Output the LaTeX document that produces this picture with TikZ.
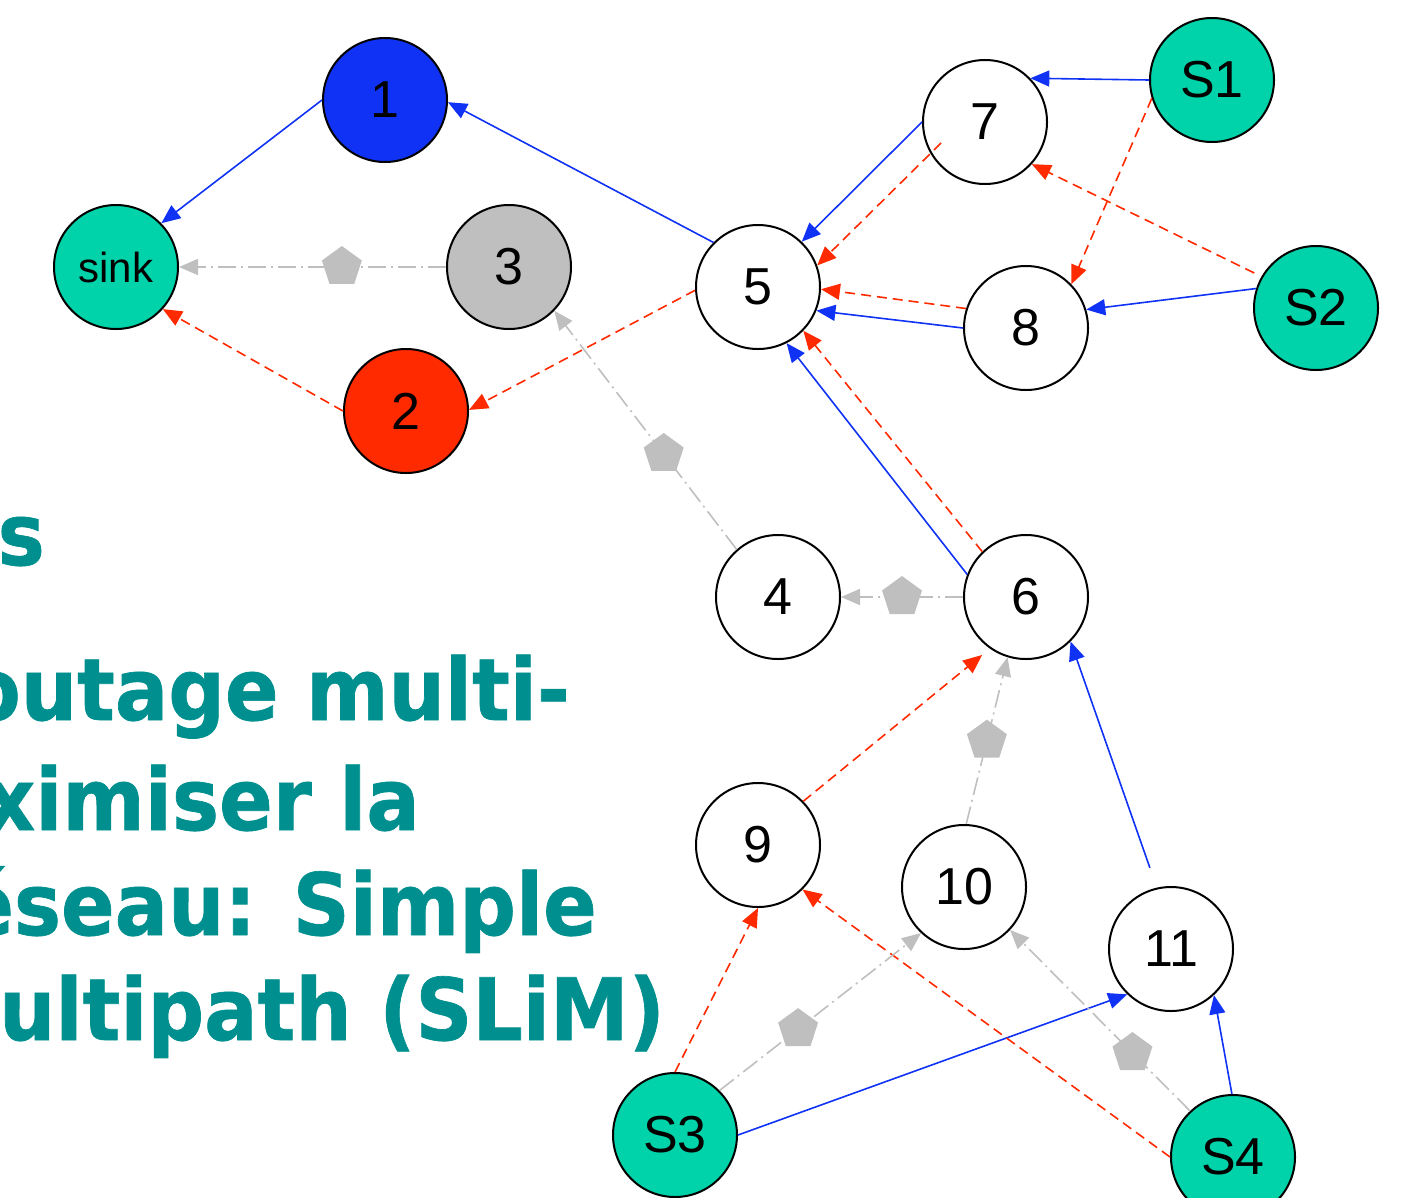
\documentclass[tikz,border=0pt]{standalone}
\usepackage{fontspec}
\setmainfont{Liberation Sans}
\newfontfamily\titlefont[FakeStretch=0.92,FakeBold=0.8]{DejaVu Sans}
\usetikzlibrary{shapes.geometric,arrows.meta}
\definecolor{srcteal}{RGB}{0,210,170}
\definecolor{nblue}{RGB}{16,50,245}
\definecolor{nred}{RGB}{255,42,0}
\definecolor{ngray}{RGB}{190,191,190}
\definecolor{tteal}{RGB}{0,143,143}
\begin{document}
\begin{tikzpicture}[x=1pt,y=-1pt,
  nd/.style={circle,draw=black,line width=2pt,minimum size=124pt,inner sep=0pt,fill=white,font=\fontsize{52}{52}\selectfont},
  src/.style={nd,fill=srcteal},
  pent/.style={regular polygon,regular polygon sides=5,fill=ngray,draw=none,minimum size=42pt,inner sep=0pt},
  tipA/.style={-{Triangle[length=19pt,width=16pt]}},
  blueE/.style={draw=nblue,line width=1.6pt,tipA},
  redE/.style={draw=nred,line width=1.6pt,dash pattern=on 10pt off 6pt,tipA},
  grayE/.style={draw=ngray,line width=1.6pt,dash pattern=on 18pt off 5pt on 2pt off 5pt,tipA},
  ttl/.style={font=\titlefont\bfseries\fontsize{86}{86}\selectfont,text=tteal,inner sep=0pt}]
\useasboundingbox (0,0) rectangle (1418,1197);
\clip (0,0) rectangle (1418,1197);
% title text (partially cut, as in the reference)
\node[ttl,anchor=base east] (t1) at (45,565) {s};
\node[ttl,anchor=base east] (t2) at (570,720) {outage multi-};
\node[ttl,anchor=base east] (t3) at (420,830) {ximiser la};
\node[ttl,anchor=base east] (t4) at (597,935) {éseau: Simple};
\node[ttl,anchor=base east] (t5) at (665,1040) {ultipath (SLiM)};
% nodes
\node[nd,fill=nblue] (n1) at (385,100) {1};
\node[src,font=\fontsize{42}{42}\selectfont] (sink) at (116,267) {sink};
\node[nd,fill=ngray] (n3) at (509,267) {3};
\node[nd,fill=nred] (n2) at (406,411) {2};
\node[nd] (n5) at (758,287) {5};
\node[nd] (n7) at (985,122) {7};
\node[src] (S1) at (1212,80) {S1};
\node[src] (S2) at (1316,308) {S2};
\node[nd] (n8) at (1026,328) {8};
\node[nd] (n4) at (778,597) {4};
\node[nd] (n6) at (1026,597) {6};
\node[nd] (n9) at (758,845) {9};
\node[nd] (n10) at (964,887) {10};
\node[nd] (n11) at (1171,949) {11};
\node[src] (S3) at (675,1135) {S3};
\node[src] (S4) at (1233,1157) {S4};
% blue edges
\draw[blueE] (n1.180) -- (sink.44);
\draw[blueE] (n5.135) -- (n1.-2);
\draw[blueE] (n7.180) -- (n5.46);
\draw[blueE] (S1.180) -- (n7.44);
\draw[blueE] (S2.162) -- (n8.17);
\draw[blueE] (n8.180) -- (n5.-22);
\draw[blueE] (n6.159) -- (n5.-63);
\draw[blueE,shorten <=21pt] (n11.103) -- (n6.-45);
\draw[blueE] (S3.0) -- (n11.-134);
\draw[blueE] (S4.91) -- (n11.-47);
% red edges
\draw[redE] (n5.183) -- (n2.1);
\draw[redE] (n2.180) -- (sink.-42);
\draw[redE,shorten <=-15pt] (n7.210) -- (n5.20);
\draw[redE] (S1.197) -- (n8.44);
\draw[redE,shorten <=8pt] (S2.150) -- (n7.-42);
\draw[redE] (n8.162) -- (n5.-2);
\draw[redE] (n6.134) -- (n5.-44);
\draw[redE,shorten >=10pt] (n9.44) -- (n6.-125);
\draw[redE] (S3.90) -- (n9.-90);
\draw[redE] (S4.180) -- (n9.-45);
% gray edges
\draw[grayE] (n3.180) -- node[pent,pos=0.39]{} (sink.0);
\draw[grayE] (n4.131) -- node[pent,pos=0.40]{} (n3.-44);
\draw[grayE] (n6.180) -- node[pent]{} (n4.0);
\draw[grayE] (n10.88) -- node[pent]{} (n6.-107);
\draw[grayE] (S3.45) -- node[pent,pos=0.39]{} (n10.-133);
\draw[grayE] (S4.133) -- node[pent,pos=0.32]{} (n10.-43);
\end{tikzpicture}
\end{document}
